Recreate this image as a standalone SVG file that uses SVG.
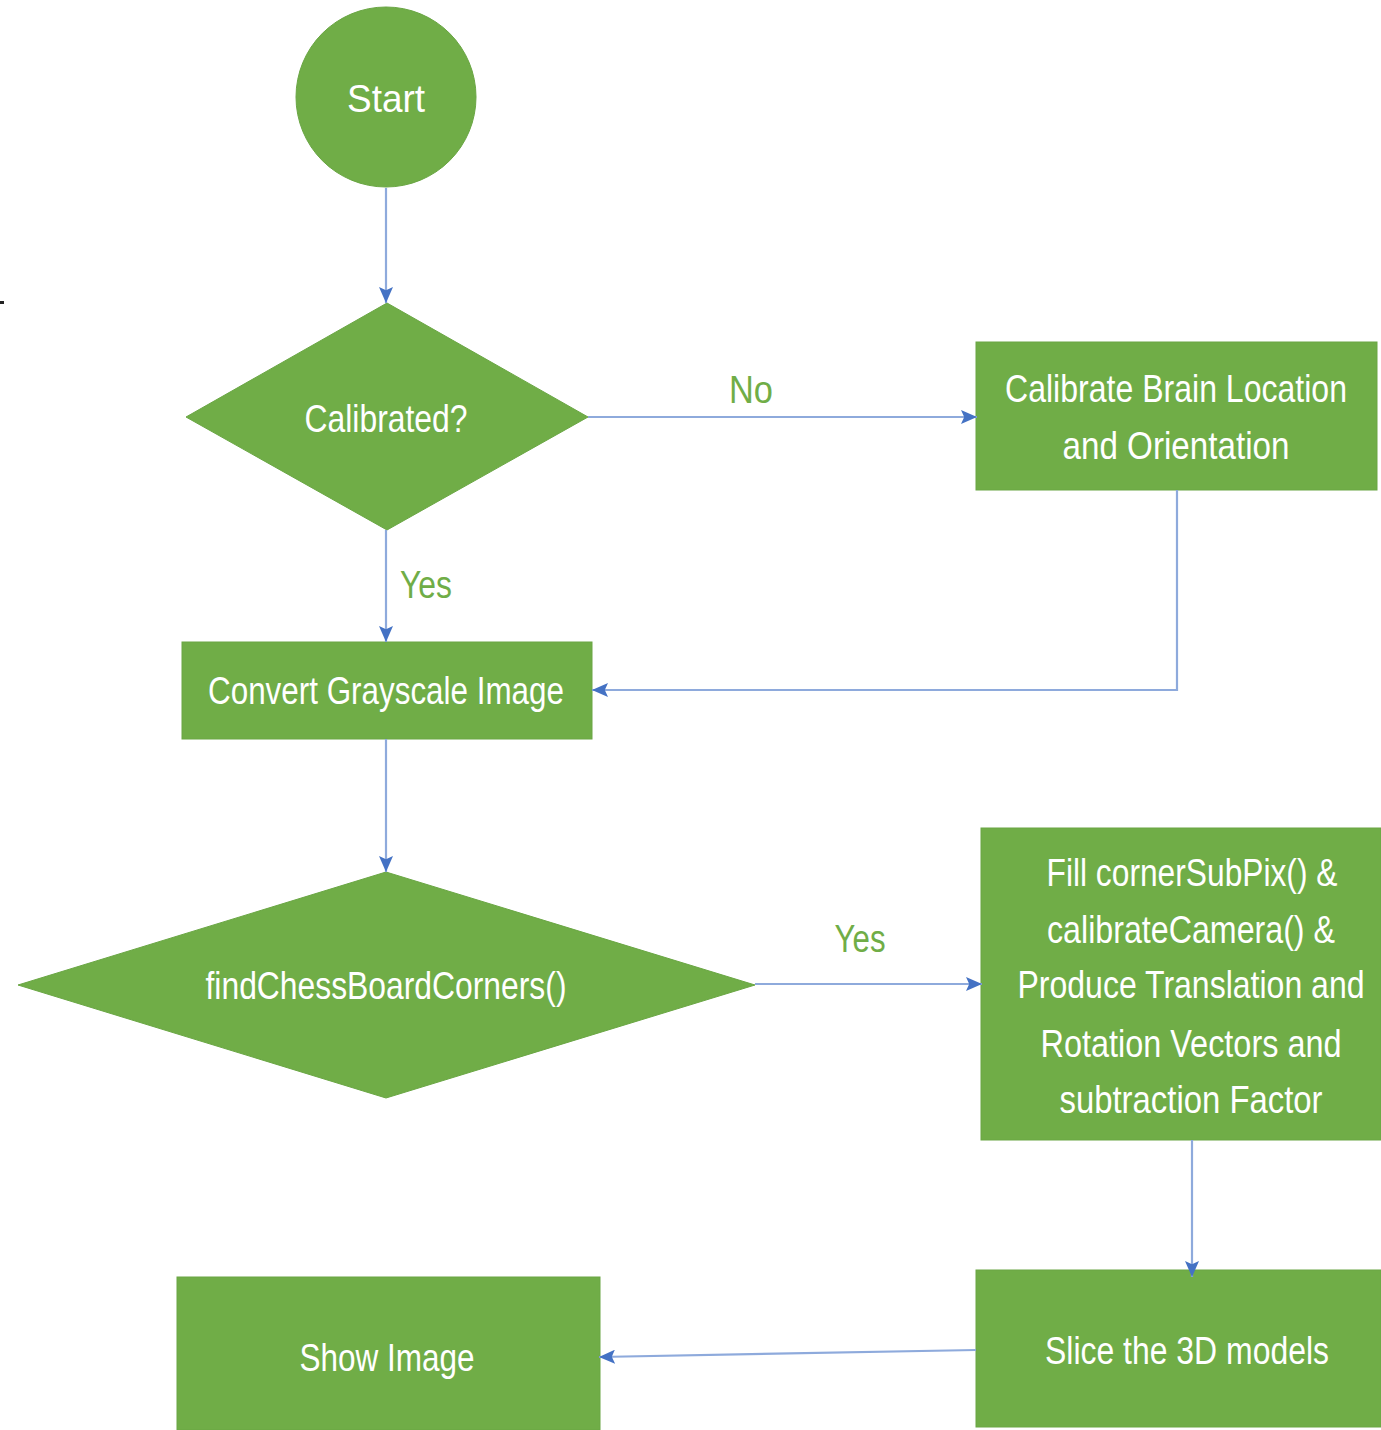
<svg xmlns="http://www.w3.org/2000/svg" width="1381" height="1430" viewBox="0 0 1381 1430">
<style>
.shape{fill:#70AD47;stroke:#6aa644;stroke-width:1}
.t{font-family:"Liberation Sans",Arial,sans-serif;font-size:33px;fill:#ffffff;text-anchor:middle}
.lbl{font-family:"Liberation Sans",Arial,sans-serif;font-size:33px;fill:#70AD47;text-anchor:middle}
.c{fill:none;stroke:#8eaadc;stroke-width:2.2}
</style>
<defs>
<marker id="ah" viewBox="0 0 10 10" refX="10" refY="5" markerWidth="16" markerHeight="14" markerUnits="userSpaceOnUse" orient="auto" preserveAspectRatio="none">
<path d="M0,0 L10,5 L0,10 L2,5 z" fill="#4472C4"/>
</marker>
</defs>
<rect width="1381" height="1430" fill="#ffffff"/>
<rect x="0" y="301" width="4" height="3" fill="#222222"/>
<g id="start">
<circle class="shape" cx="386" cy="97" r="90"/>
<text class="t" transform="translate(386,112) scale(1,1.18)" textLength="78" lengthAdjust="spacingAndGlyphs">Start</text>
</g>
<g id="calibrated">
<polygon class="shape" points="387,303 588,417 387,530 186,417"/>
<text class="t" transform="translate(386,432) scale(1,1.18)" textLength="163" lengthAdjust="spacingAndGlyphs">Calibrated?</text>
</g>
<g id="calibrate-brain">
<rect class="shape" x="976" y="342" width="401" height="148"/>
<text class="t" transform="translate(1176,402) scale(1,1.18)" textLength="342" lengthAdjust="spacingAndGlyphs">Calibrate Brain Location</text>
<text class="t" transform="translate(1176,459) scale(1,1.18)" textLength="227" lengthAdjust="spacingAndGlyphs">and Orientation</text>
</g>
<g id="convert">
<rect class="shape" x="182" y="642" width="410" height="97"/>
<text class="t" transform="translate(386,704) scale(1,1.18)" textLength="356" lengthAdjust="spacingAndGlyphs">Convert Grayscale Image</text>
</g>
<g id="findchess">
<polygon class="shape" points="386,872 755,985 386,1098 18,985"/>
<text class="t" transform="translate(386,999) scale(1,1.18)" textLength="361" lengthAdjust="spacingAndGlyphs">findChessBoardCorners()</text>
</g>
<g id="fill">
<rect class="shape" x="981" y="828" width="400" height="312"/>
<text class="t" transform="translate(1192,886) scale(1,1.18)" textLength="291" lengthAdjust="spacingAndGlyphs">Fill cornerSubPix() &amp;</text>
<text class="t" transform="translate(1191,943) scale(1,1.18)" textLength="288" lengthAdjust="spacingAndGlyphs">calibrateCamera() &amp;</text>
<text class="t" transform="translate(1191,998) scale(1,1.18)" textLength="347" lengthAdjust="spacingAndGlyphs">Produce Translation and</text>
<text class="t" transform="translate(1191,1057) scale(1,1.18)" textLength="301" lengthAdjust="spacingAndGlyphs">Rotation Vectors and</text>
<text class="t" transform="translate(1191,1113) scale(1,1.18)" textLength="263" lengthAdjust="spacingAndGlyphs">subtraction Factor</text>
</g>
<g id="slice">
<rect class="shape" x="976" y="1270" width="405" height="157"/>
<text class="t" transform="translate(1187,1364) scale(1,1.18)" textLength="284" lengthAdjust="spacingAndGlyphs">Slice the 3D models</text>
</g>
<g id="show">
<rect class="shape" x="177" y="1277" width="423" height="153"/>
<text class="t" transform="translate(387,1371) scale(1,1.18)" textLength="175" lengthAdjust="spacingAndGlyphs">Show Image</text>
</g>
<g id="connectors">
<path class="c" d="M386,188 L386,303" marker-end="url(#ah)"/>
<path class="c" d="M588,417 L977,417" marker-end="url(#ah)"/>
<path class="c" d="M1177,490 L1177,690 L592,690" marker-end="url(#ah)"/>
<path class="c" d="M386,530 L386,642" marker-end="url(#ah)"/>
<path class="c" d="M386,739 L386,872" marker-end="url(#ah)"/>
<path class="c" d="M755,984 L982,984" marker-end="url(#ah)"/>
<path class="c" d="M1192,1140 L1192,1277" marker-end="url(#ah)"/>
<path class="c" d="M976,1350 L599,1357" marker-end="url(#ah)"/>
<text class="lbl" transform="translate(751,403) scale(1,1.18)" textLength="44" lengthAdjust="spacingAndGlyphs">No</text>
<text class="lbl" transform="translate(426,598) scale(1,1.18)" textLength="52" lengthAdjust="spacingAndGlyphs">Yes</text>
<text class="lbl" transform="translate(860,952) scale(1,1.18)" textLength="51" lengthAdjust="spacingAndGlyphs">Yes</text>
</g>
</svg>
